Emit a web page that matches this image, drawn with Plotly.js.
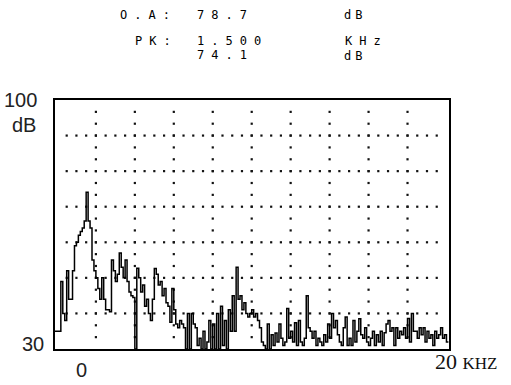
<!DOCTYPE html>
<html>
<head>
<meta charset="utf-8">
<script src="https://cdn.plot.ly/plotly-3.0.1.min.js"></script>
<style>html,body{margin:0;padding:0;background:#fff;}#chart{width:511px;height:385px;}</style>
</head>
<body>
<div id="chart"></div>
<script>
// Spectrum bins (kHz) and measured level (dB)
const freqKHz = [-0.1,0.0,0.1,0.2,0.3,0.4,0.5,0.6,0.7,0.8,0.9,1.0,1.1,1.2,1.3,1.4,1.5,1.6,1.7,1.8,1.9,
  2.0,2.1,2.2,2.3,2.4,2.5,2.6,2.7,2.8,2.9,3.0,3.1,3.2,3.3,3.4,3.5,3.6,3.7,3.8,3.9,
  4.0,4.1,4.2,4.3,4.4,4.5,4.6,4.7,4.8,4.9,5.0,5.1,5.2,5.3,5.4,5.5,5.6,5.7,5.8,5.9,
  6.0,6.1,6.2,6.3,6.4,6.5,6.6,6.7,6.8,6.9,7.0,7.1,7.2,7.3,7.4,7.5,7.6,7.7,7.8,7.9,
  8.0,8.1,8.2,8.3,8.4,8.5,8.6,8.7,8.8,8.9,9.0,9.1,9.2,9.3,9.4,9.5,9.6,9.7,9.8,9.9,
  10.0,10.1,10.2,10.3,10.4,10.5,10.6,10.7,10.8,10.9,11.0,11.1,11.2,11.3,11.4,11.5,11.6,11.7,11.8,11.9,
  12.0,12.1,12.2,12.3,12.4,12.5,12.6,12.7,12.8,12.9,13.0,13.1,13.2,13.3,13.4,13.5,13.6,13.7,13.8,13.9,
  14.0,14.1,14.2,14.3,14.4,14.5,14.6,14.7,14.8,14.9,15.0,15.1,15.2,15.3,15.4,15.5,15.6,15.7,15.8,15.9,
  16.0,16.1,16.2,16.3,16.4,16.5,16.6,16.7,16.8,16.9,17.0,17.1,17.2,17.3,17.4,17.5,17.6,17.7,17.8,17.9,
  18.0,18.1,18.2,18.3,18.4,18.5,18.6,18.7,18.8,18.9,19.0,19.1,19.2,19.3,19.4,19.5,19.6,19.7,19.8,19.9,
  20.0,20.1];
const levelDB = [35,35,35,49,40,38,52,44,44,52,59,60,62,63,64,66,74.1,66,64,55,52,
  50,47,44,50,44,41,41,40.5,55,52,49,51,57,53,50,55,49,46,45,44.5,
  30,52.7,50,46,48,42,44,40,38,44,52.6,51,48,49,45,47,43,42,37.5,47,
  41,37,36,38,37,36,30,40,30,40,37,36,31,33,30,35,30,32,38,30,
  37,30,40,30,42,31,38,30,41,35,45,35,53,44,45,41,43,40,39,40,
  41,39,40,38,36,32,31,30,37,30,34,31,34.5,32,37,33,31,32,41.4,33,
  35,32,37.4,31,38,32,31,33,45,36,35,33,35,31,33,32,31,34,32,37,
  33,40,36,38,34,32,31,36,39,31,33,31,38,32,35,38.5,34,33,36,32,
  31,33,35,31,34,32,35,31,34.6,37,38,35,36,31,36,33,35,34,36,33,
  38.6,32,40,35,35,33,36,34,36,32,35,33,34,31,35,33,34,36,33,34,
  32,32];
const markerKHz = [1.5];
const yTickText = ['100', 'dB', '30'];
const xTickText = ['0', '20 KHZ'];

// dotted graticule
const gx = [], gy = [];
const rowsDB = [40,50,60,70,80,90];
rowsDB.forEach(r => { for (let k = 1; k <= 39; k++) { gx.push(k * 0.5); gy.push(r); } });
const colsKHz = [2,4,6,8,10,12,14,16,18];
colsKHz.forEach(c => { for (let k = 1; k <= 20; k++) { gx.push(c); gy.push(30 + k * 10 / 3); } });

const traces = [
  {x: gx, y: gy, type: 'scatter', mode: 'markers', hoverinfo: 'skip',
   marker: {size: 2.2, color: '#111', symbol: 'square'}},
  {x: freqKHz, y: levelDB, type: 'scatter', mode: 'lines', hoverinfo: 'skip',
   line: {shape: 'hv', color: '#000', width: 1.5}},
  {x: markerKHz, y: [29.1], type: 'scatter', mode: 'markers', cliponaxis: false, hoverinfo: 'skip',
   marker: {symbol: 'triangle-up', size: 7, color: '#000'}}
];

const L = 55, R = 449.5, T = 100, B = 349;
const px = X => (X - L) / (R - L);
const py = Y => (B - Y) / (B - T);
const mono = {family: 'DejaVu Sans Mono', size: 12, color: '#000'};
const sp = (t, s) => '<span style="letter-spacing:' + s + 'px">' + t + '</span>';
function ann(text, X, Y, font, xa) {
  return {text: text, xref: 'paper', yref: 'paper', x: px(X), y: py(Y), xanchor: xa || 'left', yanchor: 'middle',
          showarrow: false, font: font};
}
const labelFont = {family: 'Liberation Sans', size: 20, color: '#222'};
const serif = {family: 'Liberation Serif', size: 22, color: '#111'};

const layout = {
  width: 511, height: 385,
  margin: {l: L, r: 511 - R, t: T, b: 385 - B, pad: 0},
  paper_bgcolor: '#fff', plot_bgcolor: '#fff',
  showlegend: false,
  xaxis: {range: [-0.1, 20.13], showgrid: false, zeroline: false, showticklabels: false, ticks: '',
          showline: true, mirror: true, linecolor: '#000', linewidth: 2, fixedrange: true},
  yaxis: {range: [30, 100], showgrid: false, zeroline: false, showticklabels: false, ticks: '',
          showline: true, mirror: true, linecolor: '#000', linewidth: 2, fixedrange: true},
  annotations: [
    ann(sp('O.A:', 7), 118, 15, mono),
    ann(sp('78.7', 7), 195, 15, mono),
    ann(sp('dB', 4), 342, 15, mono),
    ann(sp('PK:', 7), 133, 41, mono),
    ann(sp('1.500', 7), 195, 41, mono),
    ann(sp('KHz', 7), 343, 41, mono),
    ann(sp('74.1', 7), 195, 55, mono),
    ann(sp('dB', 4), 342, 56, mono),
    ann(yTickText[0], 20, 100, labelFont, 'center'),
    ann(yTickText[1], 24, 125, labelFont, 'center'),
    ann(yTickText[2], 33, 344, labelFont, 'center'),
    ann(xTickText[0], 82, 370, labelFont, 'center'),
    ann('20 <span style="font-size:17px">KHZ</span>', 433, 361, serif, 'left')
  ]
};

Plotly.newPlot('chart', traces, layout, {staticPlot: true, displayModeBar: false});
</script>
</body>
</html>
